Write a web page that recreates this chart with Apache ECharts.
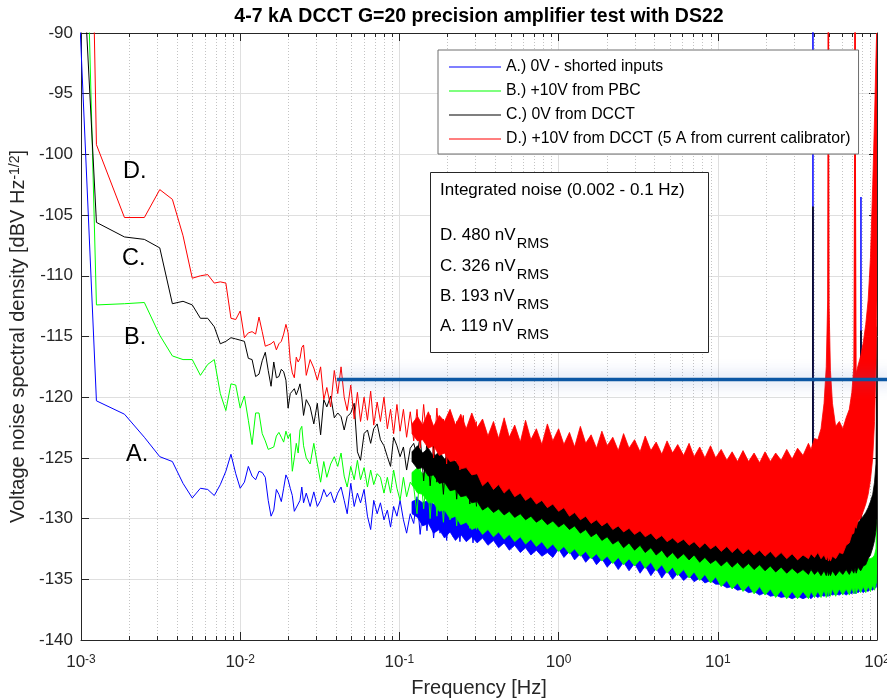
<!DOCTYPE html>
<html><head><meta charset="utf-8">
<script src="https://cdn.jsdelivr.net/npm/echarts@6/dist/echarts.min.js"></script>
<style>html,body{margin:0;padding:0;background:#fff}#c{width:887px;height:700px}</style>
</head><body><div id="c"></div>
<script>
const FONT = "'Liberation Sans', Arial, Helvetica, sans-serif";
const TXT = '#262626';
const X_MIN = 0.001, X_MAX = 100, Y_MIN = -140, Y_MAX = -90;

// ---- tick labels ----
const xTickExponents = ['-3', '-2', '-1', '0', '1', '2'];
const yTickValues = [-140, -135, -130, -125, -120, -115, -110, -105, -100, -95, -90];
const xMinorTicks = [0.002,0.003,0.004,0.005,0.006,0.007,0.008,0.009,
  0.02,0.03,0.04,0.05,0.06,0.07,0.08,0.09,
  0.2,0.3,0.4,0.5,0.6,0.7,0.8,0.9,
  2,3,4,5,6,7,8,9,
  20,30,40,50,60,70,80,90];

// ---- series names ----
const seriesNames = ['A.) 0V - shorted inputs', 'B.) +10V from PBC', 'C.) 0V from DCCT',
  'D.) +10V from DCCT (5 A from current calibrator)'];

// ---- low-frequency FFT bins (Hz) ----
const binFreq = [0.000625,0.00125,0.001875,0.0025,0.003125,0.00375,0.004375,0.005,0.005625,0.00625,
  0.006875,0.0075,0.008125,0.00875,0.009375,0.01,0.010625,0.01125,0.011875,0.0125,
  0.013125,0.01375,0.014375,0.015,0.015625,0.01625,0.016875,0.0175,0.018125,0.01875,
  0.019375,0.02,0.020625,0.02125,0.021875,0.0225,0.023125,0.02375,0.024375,0.025];
const lowA = [-29.9,-120.3,-121.4,-123.3,-124.9,-125.3,-127.1,-128.3,-127.5,-127.6,
  -128.1,-127.2,-126.1,-124.7,-126.3,-127.5,-127.0,-125.7,-126.5,-126.8,
  -126.1,-126.2,-126.6,-128.5,-129.8,-129.3,-127.6,-128.0,-128.6,-127.5,
  -126.4,-126.8,-127.5,-128.1,-129.4,-129.3,-128.8,-128.5,-127.4,-128.7];
const lowB = [40,-112.4,-112.3,-112.2,-114.9,-116.6,-116.9,-116.9,-118.2,-117.3,
  -116.9,-119.7,-121.1,-118.9,-119.0,-120.9,-119.9,-121.9,-123.9,-121.3,
  -121.3,-123.0,-123.6,-124.3,-124.2,-124.1,-123.2,-122.9,-123.3,-123.7,
  -122.8,-123.4,-123.0,-126.1,-125.0,-123.8,-124.6,-122.7,-122.4,-124.0];
const lowC = [-28.5,-105.6,-106.8,-107.0,-107.7,-112.3,-112.1,-112.4,-113.5,-113.5,
  -114.2,-115.6,-115.4,-115.1,-115.2,-115.3,-115.4,-116.8,-116.9,-118.3,
  -118.1,-117.0,-116.3,-117.8,-119.1,-117.1,-118.4,-118.3,-117.7,-117.9,
  -118.6,-120.9,-119.7,-119.5,-119.3,-119.8,-119.4,-118.9,-120.0,-121.5];
const lowD = [110,-99.2,-105.2,-105.2,-102.9,-103.7,-106.7,-110.2,-110.0,-109.9,
  -110.6,-110.5,-110.6,-113.5,-113.6,-112.9,-115.1,-114.7,-114.6,-114.8,
  -113.4,-114.6,-115.8,-115.7,-115.6,-115.4,-116.1,-115.6,-115.4,-114.8,
  -114.0,-114.7,-117.0,-118.0,-118.4,-116.7,-117.1,-116.8,-115.9,-115.7];

// ---- mid band: individual noise peaks / dips ----
const midFreq = [0.026,0.0275,0.029,0.0305,0.032,0.0335,0.035,0.037,0.039,0.041,
  0.043,0.045,0.047,0.0495,0.052,0.0545,0.057,0.06,0.063,0.066,
  0.069,0.0725,0.076,0.08,0.084,0.088,0.092,0.0965,0.101,0.106,
  0.111,0.117,0.123,
  0.129,0.135,0.142,0.149,0.156,0.164,0.172,0.18,0.189,0.198,
  0.208,0.218,0.229,0.24,0.252,0.264,0.277,0.29,0.305];
const midA = [-127.9,-129.0,-127.8,-129.0,-128.5,-127.6,-128.2,-127.8,-128.7,-127.9,
  -127.4,-128.5,-129.6,-127.1,-129.0,-127.9,-128.7,-127.6,-129.8,-130.9,
  -128.5,-129.6,-128.7,-130.1,-129.3,-130.7,-129.0,-129.8,-128.5,-130.1,
  -131.2,-129.6,-130.4,
  -128.2,-131.3,-128.6,-131.0,-128.4,-131.6,-128.9,-131.2,-128.7,-131.8,
  -129.0,-131.5,-129.3,-131.9,-129.1,-131.7,-129.5,-132.0,-129.4];
const midB = [-125.0,-125.5,-123.8,-125.5,-127.0,-125.3,-126.6,-125.5,-124.9,-125.7,
  -124.6,-126.5,-127.4,-125.7,-126.8,-125.2,-126.8,-125.8,-127.4,-126.0,
  -127.2,-126.3,-126.6,-127.9,-126.6,-127.9,-126.0,-127.5,-128.5,-126.6,
  -128.2,-127.0,-127.4,
  -129.6,-125.8,-129.2,-126.2,-130.0,-125.9,-129.8,-126.6,-130.3,-126.4,
  -130.1,-127.0,-130.6,-126.9,-130.4,-127.4,-130.8,-127.2,-130.9];
const midC = [-120.2,-120.8,-122.2,-120.5,-123.1,-120.2,-120.8,-119.9,-121.7,-121.3,
  -121.6,-122.7,-121.6,-121.3,-120.5,-124.5,-125.2,-123.0,-122.7,-123.8,
  -122.6,-122.2,-123.5,-124.0,-124.9,-125.7,-123.3,-124.0,-124.9,-124.1,
  -126.0,-124.2,-123.8,
  -124.8,-123.2,-126.9,-123.6,-127.3,-124.0,-127.0,-124.3,-128.0,-124.1,
  -127.6,-124.8,-128.4,-125.0,-128.0,-125.3,-128.8,-125.5,-129.0];
const midD = [-118.2,-116.9,-117.6,-118.6,-117.5,-120.2,-119.2,-120.8,-117.8,-119.7,
  -117.5,-120.0,-121.1,-119.0,-121.8,-119.6,-122.0,-120.0,-121.9,-119.5,
  -122.3,-120.4,-122.0,-120.0,-122.6,-121.0,-123.0,-120.6,-122.8,-121.0,
  -123.3,-121.2,-123.6,
  -121.0,-124.2,-120.6,-123.8,-121.5,-125.0,-120.9,-124.4,-121.8,-125.5,
  -121.2,-124.8,-122.0,-126.0,-121.5,-125.3,-122.4,-126.2,-122.0];

// ---- dense high-frequency region: upper / lower envelope of the noise ----
const bandFreq = [0.12,0.13,0.14,0.152,0.164,0.178,0.192,0.208,0.225,0.243,0.263,0.285,0.308,
  0.333,0.36,0.39,0.42,0.455,0.49,0.53,0.575,0.62,0.67,0.725,0.785,0.85,0.92,
  1.0,1.08,1.17,1.26,1.37,1.48,1.6,1.73,1.87,2.02,2.19,2.37,2.56,2.77,3.0,3.25,3.5,3.8,4.1,4.45,4.8,5.2,5.6,6.1,6.6,7.1,7.7,8.3,9.0,9.7,
  10.5,11.4,12.3,13.3,14.4,15.6,16.9,18.3,19.8,21.4,23.1,25.0,27.1,29.3,31.7,34.3,37.1,38.5,40.5,42.5,44.5,46.5,
  48.0,49.0,49.5,50.0,51.0,52.5,55.0,58.0,61.0,64.0,67.0,69.5,71.5,72.8,74.0,76.0,79.0,82.0,85.0,88.0,91.0,94.0,96.5,98.5,99.5,100];
const hiA = [-128.6,-128.4,-128.7,-128.5,-128.8,-128.7,-128.9,-128.8,-129.0,-128.9,-129.1,-129.0,-129.2,
  -129.2,-129.3,-129.3,-129.4,-129.4,-129.5,-129.5,-129.7,-129.7,-129.9,-129.9,-130.0,-130.0,-130.1,
  -130.2,-130.3,-130.4,-130.5,-130.6,-130.7,-130.8,-130.9,-131.0,-131.1,-131.2,-131.3,-131.4,-131.5,-131.5,-131.6,-131.7,-131.8,-131.9,-132.0,-132.1,-132.2,-132.3,-132.4,-132.5,-132.6,-132.7,-132.8,-132.9,-133.0,
  -133.1,-133.2,-133.2,-133.3,-133.3,-133.4,-133.5,-133.5,-133.6,-133.6,-133.7,-133.7,-133.8,-133.8,-133.8,-133.8,-133.8,-133.8,-133.8,-133.8,-133.8,-133.8,
  -133.8,-133.8,-133.8,-133.8,-133.8,-133.8,-133.8,-133.8,-133.8,-133.8,-133.8,-133.8,-133.8,-133.8,-133.8,-133.8,-133.8,-133.8,-133.8,-133.8,-133.8,-133.8,-133.7,-133.6,-133.5,-133.5];
const loA = [-129.6,-129.9,-130.6,-130.4,-131.2,-130.9,-131.6,-131.1,-131.8,-131.3,-131.9,-131.5,-132.0,
  -131.6,-132.2,-131.8,-132.4,-132.0,-132.6,-132.2,-132.8,-132.4,-133.0,-132.6,-133.1,-132.8,-133.2,
  -132.5,-133.2,-132.7,-133.4,-132.9,-133.6,-133.1,-133.8,-133.3,-134.0,-133.5,-134.2,-133.6,-134.3,-133.7,-134.5,-133.9,-134.7,-134.1,-134.9,-134.3,-135.0,-134.5,-135.1,-134.7,-135.2,-134.9,-135.3,-135.1,-135.4,
  -135.4,-135.7,-135.6,-135.9,-135.8,-136.1,-136.0,-136.3,-136.1,-136.4,-136.3,-136.5,-136.4,-136.6,-136.4,-136.6,-136.4,-136.6,-136.3,-136.5,-136.3,-136.4,
  -136.3,-136.4,-136.2,-136.4,-136.2,-136.3,-136.2,-136.3,-136.1,-136.3,-136.1,-136.2,-136.0,-136.2,-136.0,-136.1,-135.9,-136.1,-135.9,-136.0,-135.8,-135.9,-135.7,-135.7,-135.5,-135.2];
const hiB = [-126.2,-125.8,-126.3,-126.0,-126.5,-126.2,-126.7,-126.5,-127.0,-126.8,-127.2,-127.0,-127.4,
  -127.4,-127.6,-127.6,-127.8,-127.8,-128.0,-128.0,-128.3,-128.3,-128.6,-128.6,-128.8,-128.8,-129.0,
  -129.1,-129.2,-129.3,-129.4,-129.5,-129.6,-129.7,-129.8,-129.9,-130.0,-130.1,-130.2,-130.3,-130.4,-130.5,-130.6,-130.7,-130.8,-130.9,-131.0,-131.1,-131.2,-131.3,-131.4,-131.5,-131.6,-131.7,-131.9,-132.0,-132.2,
  -132.4,-132.5,-132.6,-132.7,-132.8,-132.9,-133.0,-133.1,-133.2,-133.3,-133.3,-133.4,-133.5,-133.5,-133.6,-133.6,-133.6,-133.6,-133.6,-133.6,-133.6,-133.6,
  -133.6,-133.6,-133.6,-133.6,-133.6,-133.6,-133.6,-133.6,-133.6,-133.6,-133.6,-133.5,-133.5,-133.5,-133.4,-133.4,-133.4,-133.4,-133.3,-133.3,-133.3,-133.2,-133.0,-132.5,-130.0,-125.2];
const loB = [-127.2,-127.9,-128.0,-128.7,-128.7,-129.4,-129.3,-130.0,-129.8,-130.5,-130.3,-130.9,-130.7,
  -131.3,-130.9,-131.5,-131.1,-131.7,-131.3,-131.9,-131.5,-132.1,-131.7,-132.3,-131.9,-132.5,-132.1,
  -132.7,-132.3,-132.9,-132.5,-133.1,-132.7,-133.3,-132.9,-133.5,-133.1,-133.7,-133.2,-133.8,-133.3,-133.9,-133.4,-134.1,-133.6,-134.3,-133.8,-134.5,-134.0,-134.7,-134.2,-134.9,-134.4,-135.1,-134.6,-135.3,-134.8,
  -135.6,-135.1,-135.8,-135.3,-136.0,-135.5,-136.2,-135.6,-136.3,-135.8,-136.5,-135.9,-136.6,-136.0,-136.6,-136.0,-136.6,-136.0,-136.5,-136.0,-136.5,-135.9,
  -136.5,-135.9,-136.4,-135.9,-136.4,-135.8,-136.4,-135.8,-136.3,-135.8,-136.3,-135.7,-136.2,-135.7,-136.2,-135.7,-136.1,-135.6,-136.1,-135.6,-136.0,-135.5,-135.9,-135.4,-135.2,-134.5];
const hiC = [-124.5,-124.0,-124.6,-124.2,-124.9,-124.5,-125.1,-124.7,-125.3,-125.0,-125.5,-125.2,-125.6,
  -125.4,-125.9,-125.6,-126.1,-125.8,-126.3,-126.1,-126.6,-126.3,-126.8,-126.6,-127.1,-126.9,-127.3,
  -127.2,-127.6,-127.4,-127.8,-127.6,-128.0,-127.8,-128.2,-128.0,-128.4,-128.2,-128.6,-128.4,-128.8,-128.7,-129.0,-128.9,-129.2,-129.1,-129.4,-129.3,-129.6,-129.5,-129.8,-129.8,-130.2,-130.1,-130.5,-130.4,-130.8,
  -130.9,-131.1,-131.0,-131.2,-131.1,-131.3,-131.2,-131.4,-131.3,-131.5,-131.4,-131.5,-131.4,-131.5,-131.4,-131.5,-131.4,-131.5,-131.4,-131.5,-131.4,-131.4,
  -131.4,-131.4,-131.3,-131.3,-131.3,-131.3,-131.2,-131.2,-131.1,-131.0,-130.9,-130.7,-130.6,-130.5,-130.5,-130.3,-130.1,-129.8,-129.5,-129.1,-128.6,-128.0,-127.0,-125.5,-119.0,-114.2];
const loC = [-125.3,-125.9,-125.8,-126.5,-126.4,-127.1,-127.0,-127.7,-127.6,-128.2,-128.1,-128.7,-128.6,
  -129.3,-129.0,-129.5,-129.2,-129.7,-129.4,-129.9,-129.6,-130.1,-129.8,-130.3,-130.0,-130.5,-130.2,
  -130.7,-130.4,-130.9,-130.6,-131.2,-130.9,-131.5,-131.2,-131.8,-131.5,-132.1,-131.8,-132.4,-132.0,-132.6,-132.2,-132.8,-132.4,-133.0,-132.6,-133.2,-132.8,-133.3,-132.9,-133.4,-133.0,-133.6,-133.2,-133.7,-133.4,
  -133.9,-133.5,-134.0,-133.6,-134.1,-133.7,-134.2,-133.8,-134.3,-133.9,-134.4,-134.0,-134.5,-134.1,-134.5,-134.2,-134.6,-134.2,-134.6,-134.3,-134.7,-134.3,
  -134.7,-134.3,-134.7,-134.4,-134.7,-134.3,-134.7,-134.3,-134.6,-134.2,-134.6,-134.2,-134.5,-134.1,-134.5,-134.0,-134.3,-133.9,-133.8,-133.3,-133.0,-132.4,-131.8,-131.0,-130.2,-130.0];
const hiD = [-122.2,-121.6,-122.3,-121.2,-122.4,-121.5,-122.0,-121.0,-122.3,-121.4,-122.6,-121.3,-122.5,
  -121.8,-123.2,-122.0,-123.4,-121.7,-123.3,-122.3,-123.7,-121.9,-123.5,-122.6,-123.9,-122.2,-123.6,
  -122.6,-123.9,-122.9,-124.1,-122.4,-123.8,-123.1,-124.2,-122.8,-124.0,-123.3,-124.4,-123.0,-124.2,-123.5,-124.5,-123.2,-124.4,-123.7,-124.7,-123.6,-124.6,-123.9,-124.8,-123.8,-124.9,-124.1,-125.0,-124.0,-125.0,
  -124.3,-125.2,-124.5,-125.3,-124.4,-125.3,-124.6,-125.4,-124.5,-125.3,-124.6,-125.2,-124.3,-125.1,-124.2,-124.8,-123.8,-124.3,-123.4,-123.5,-122.6,-120.5,
  -117.5,-112.0,-88.0,-112.5,-117.8,-120.5,-122.4,-122.0,-122.6,-121.7,-121.0,-119.6,-117.5,-88.0,-118.0,-117.4,-116.6,-115.5,-114.0,-112.0,-108.5,-102.5,-97.0,-92.0,-88.0,-88.0];
const loD = [-123.0,-123.6,-123.5,-124.2,-124.0,-124.8,-124.6,-125.3,-125.2,-125.9,-125.8,-126.4,-126.3,
  -127.3,-126.9,-127.6,-127.2,-127.9,-127.5,-128.2,-127.9,-128.5,-128.2,-128.8,-128.5,-129.1,-128.8,
  -129.4,-129.1,-129.8,-129.5,-130.1,-129.8,-130.4,-130.1,-130.6,-130.3,-130.9,-130.6,-131.1,-130.8,-131.3,-131.0,-131.5,-131.2,-131.7,-131.4,-131.9,-131.6,-132.0,-131.7,-132.2,-131.9,-132.4,-132.0,-132.5,-132.2,
  -132.7,-132.3,-132.8,-132.4,-132.9,-132.5,-133.0,-132.6,-133.1,-132.7,-133.2,-132.8,-133.3,-132.9,-133.4,-133.0,-133.3,-132.9,-133.2,-132.8,-133.3,-133.0,
  -133.4,-133.1,-133.5,-133.2,-133.5,-133.1,-133.3,-132.8,-132.9,-132.2,-132.0,-131.3,-131.2,-130.6,-130.8,-130.2,-130.0,-129.4,-128.8,-128.0,-126.8,-125.0,-122.0,-117.5,-113.5,-112.0];

// ---- narrow interference spikes: [freq, peak dB, base dB] ----
const spikesA = [[39.6, -85, -133.5], [79.3, -103.5, -133.5]];
const spikesC = [[39.6, -104.3, -131.5], [79.3, -114.5, -130.5]];
const spikesD = [[49.5, -85, -120], [72.8, -85, -120]];

// ---- highlight bar drawn across the plot ----
const highlightBar = [[0.0405, -118.55], [130, -118.55]];

// ---- integrated noise text ----
const integratedNoise = [['D.', '480'], ['C.', '326'], ['B.', '193'], ['A.', '119']];

const COLORS = ['#0000ff', '#00ff00', '#000000', '#ff0000'];
const LAYER_Z = [2, 3, 4, 5];

function clampY(v) { return Math.max(Y_MIN, Math.min(Y_MAX, v)); }

function bandSeries(hi, lo, color, z) {
  return {
    type: 'custom', silent: true, animation: false, clip: true, z: z,
    data: [[bandFreq[0], clampY(hi[0])]],
    renderItem: function (params, api) {
      const pts = [];
      for (let i = 0; i < bandFreq.length; i++) pts.push(api.coord([bandFreq[i], clampY(hi[i])]));
      for (let i = bandFreq.length - 1; i >= 0; i--) pts.push(api.coord([bandFreq[i], clampY(lo[i])]));
      return { type: 'polygon', shape: { points: pts }, style: { fill: color, stroke: color, lineWidth: 0.8 } };
    }
  };
}
function lineSeries(name, low, mid, color, z) {
  const data = binFreq.map((f, i) => [f, low[i]]).concat(midFreq.map((f, i) => [f, mid[i]]));
  return { name: name, type: 'line', data: data, symbol: 'none', showSymbol: false, clip: true, z: z,
    color: color, itemStyle: { color: color }, lineStyle: { width: 1, color: color },
    silent: true, animation: false };
}
function spikeSeries(spikes, color, z) {
  return spikes.map(s => ({ type: 'line', data: [[s[0], s[2]], [s[0], s[1]]], symbol: 'none', z: z,
    clip: true, lineStyle: { width: 1.5, color: color }, silent: true, animation: false }));
}

const series = [];
series.push({
  type: 'custom', silent: true, animation: false, z: 1,
  data: xMinorTicks.map(v => [v, Y_MIN]),
  renderItem: function (params, api) {
    const v = api.value(0);
    const b = api.coord([v, Y_MIN]), t = api.coord([v, Y_MAX]);
    const x = Math.round(b[0]) + 0.5;
    return { type: 'group', children: [
      { type: 'line', shape: { x1: x, y1: b[1], x2: x, y2: t[1] }, style: { stroke: '#c4c4c4', lineWidth: 1, lineDash: [1, 2] } },
      { type: 'line', shape: { x1: x, y1: b[1], x2: x, y2: b[1] - 4 }, style: { stroke: TXT, lineWidth: 1 } },
      { type: 'line', shape: { x1: x, y1: t[1], x2: x, y2: t[1] + 4 }, style: { stroke: TXT, lineWidth: 1 } }
    ] };
  }
});
const lows = [lowA, lowB, lowC, lowD], mids = [midA, midB, midC, midD];
const his = [hiA, hiB, hiC, hiD], los = [loA, loB, loC, loD];
const spikes = [spikesA, [], spikesC, spikesD];
for (let s = 0; s < 4; s++) {
  series.push(bandSeries(his[s], los[s], COLORS[s], LAYER_Z[s]));
  series.push(lineSeries(seriesNames[s], lows[s], mids[s], COLORS[s], LAYER_Z[s]));
  spikeSeries(spikes[s], COLORS[s], LAYER_Z[s]).forEach(x => series.push(x));
}
// highlight bar (custom so it may run past the plot's right edge)
series.push({
  type: 'custom', silent: true, animation: false, clip: false, z: 7,
  data: [highlightBar[0]],
  renderItem: function (params, api) {
    const a = api.coord(highlightBar[0]), b = api.coord(highlightBar[1]);
    return { type: 'line', shape: { x1: a[0], y1: a[1], x2: b[0], y2: b[1] },
      style: { stroke: '#0b57a4', lineWidth: 3.5, shadowBlur: 16, shadowColor: 'rgba(70,110,200,0.6)' } };
  }
});

const graphics = [];
graphics.push({ type: 'text', x: 479, y: 17, z: 20,
  style: { text: '4-7 kA DCCT G=20 precision amplifier test with DS22', font: 'bold 19.5px ' + FONT,
    fill: '#000', align: 'center', verticalAlign: 'middle' } });
graphics.push({ type: 'rect', shape: { x: 430.5, y: 172.5, width: 278, height: 180 }, z: 20,
  style: { fill: '#fff', stroke: TXT, lineWidth: 1 } });
graphics.push({ type: 'text', x: 440, y: 190.3, z: 21,
  style: { text: 'Integrated noise (0.002 - 0.1 Hz)', font: '17px ' + FONT, fill: '#000', verticalAlign: 'middle' } });
const rowY = [235.5, 266.2, 296.3, 326.2];
integratedNoise.forEach((r, i) => {
  graphics.push({ type: 'text', x: 440, y: rowY[i], z: 21,
    style: { text: r[0] + ' ' + r[1] + ' nV', font: '17px ' + FONT, fill: '#000', verticalAlign: 'middle' } });
  graphics.push({ type: 'text', x: 516.7, y: rowY[i] + 8.8, z: 21,
    style: { text: 'RMS', font: '14.5px ' + FONT, fill: '#000', verticalAlign: 'middle' } });
});
const letterPos = [['D.', 123, 171.5], ['C.', 122, 258.5], ['B.', 124, 337.5], ['A.', 126, 455]];
letterPos.forEach(l => graphics.push({ type: 'text', x: l[1], y: l[2], z: 21,
  style: { text: l[0], font: '23.5px ' + FONT, fill: '#000', verticalAlign: 'middle' } }));

const chart = echarts.init(document.getElementById('c'), null, { renderer: 'canvas' });
chart.setOption({
  animation: false,
  backgroundColor: '#fff',
  textStyle: { fontFamily: FONT },
  grid: { left: 81, right: 10, top: 33, bottom: 60, containLabel: false, outerBoundsMode: 'none' },
  legend: {
    data: seriesNames, orient: 'vertical', left: 438, top: 50, icon: 'rect',
    itemWidth: 52, itemHeight: 1, itemGap: 8, padding: [9, 8, 7, 11],
    backgroundColor: '#fff', borderColor: '#6e6e6e', borderWidth: 1, borderRadius: 0,
    selectedMode: false, z: 10,
    textStyle: { fontSize: 15.8, color: '#000', lineHeight: 14, fontFamily: FONT }
  },
  xAxis: [{
    type: 'log', logBase: 10, min: X_MIN, max: X_MAX,
    name: 'Frequency [Hz]', nameLocation: 'middle', nameGap: 38,
    nameTextStyle: { fontSize: 20, color: TXT, fontFamily: FONT },
    axisLine: { lineStyle: { color: TXT, width: 1 } },
    axisTick: { inside: true, length: 8, lineStyle: { color: TXT } },
    minorTick: { show: false },
    splitLine: { show: true, lineStyle: { color: '#dfdfdf', width: 1 } },
    axisLabel: {
      margin: 14, color: TXT,
      formatter: function (v) {
        const e = Math.round(Math.log10(v));
        const lbl = xTickExponents.find(s => Number(s) === e);
        return '{b|10}{s|' + (lbl !== undefined ? lbl : e) + '}';
      },
      rich: {
        b: { fontSize: 17, fontFamily: FONT, color: TXT, verticalAlign: 'bottom', lineHeight: 17, padding: [5, 0, 0, 0] },
        s: { fontSize: 12, fontFamily: FONT, color: TXT, verticalAlign: 'top', lineHeight: 12 }
      }
    }
  }, {
    type: 'log', logBase: 10, min: X_MIN, max: X_MAX, position: 'top',
    axisLine: { lineStyle: { color: TXT, width: 1 } },
    axisTick: { inside: true, length: 8, lineStyle: { color: TXT } },
    axisLabel: { show: false }, splitLine: { show: false }
  }],
  yAxis: [{
    type: 'value', min: Y_MIN, max: Y_MAX, interval: 5,
    name: '{n|Voltage noise spectral density [dBV Hz}{s|-1/2}{n|]}',
    nameLocation: 'middle', nameGap: 42,
    nameTextStyle: { rich: {
      n: { fontSize: 20, color: TXT, fontFamily: FONT, verticalAlign: 'bottom', lineHeight: 20, padding: [5, 0, 0, 0] },
      s: { fontSize: 14, color: TXT, fontFamily: FONT, verticalAlign: 'top', lineHeight: 14 } } },
    axisLine: { show: true, lineStyle: { color: TXT, width: 1 } },
    axisTick: { show: true, inside: true, length: 8, lineStyle: { color: TXT } },
    splitLine: { show: true, lineStyle: { color: '#dfdfdf', width: 1 } },
    axisLabel: { fontSize: 17, color: TXT, margin: 8, fontFamily: FONT,
      formatter: function (v) { const t = yTickValues.find(y => y === v); return String(t !== undefined ? t : v); } }
  }, {
    type: 'value', min: Y_MIN, max: Y_MAX, interval: 5, position: 'right',
    axisLine: { show: true, lineStyle: { color: TXT, width: 1 } },
    axisTick: { show: true, inside: true, length: 8, lineStyle: { color: TXT } },
    axisLabel: { show: false }, splitLine: { show: false }
  }],
  graphic: graphics,
  series: series
});
</script></body></html>
